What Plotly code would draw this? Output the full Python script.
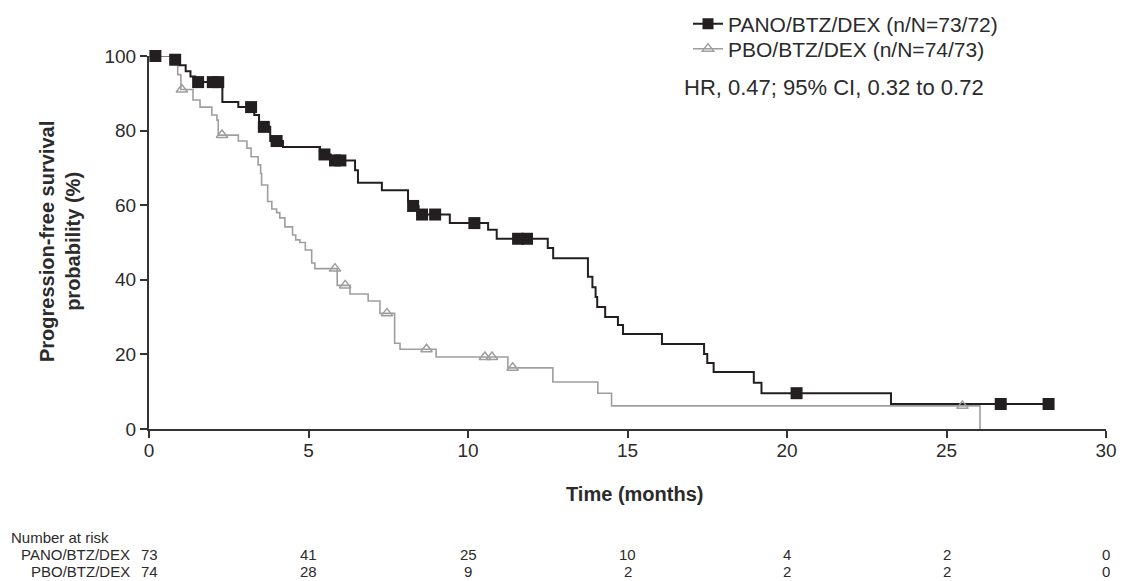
import plotly.graph_objects as go

# ---------------- data ----------------
pano_name = "PANO/BTZ/DEX (n/N=73/72)"
pbo_name = "PBO/BTZ/DEX (n/N=74/73)"
hr_text = "HR, 0.47; 95% CI, 0.32 to 0.72"

# Kaplan-Meier step points (time in months, survival %)
pano_time = [0, 0.75, 0.95, 1.15, 1.3, 1.45, 2.3, 2.8, 3.3, 3.45, 3.8, 4.2, 5.36, 5.7,
             6.46, 6.55, 7.3, 8.12, 8.2, 8.45, 9.43, 10.63, 10.9, 12.5, 12.67, 13.76,
             13.9, 14.0, 14.05, 14.3, 14.7, 14.86, 16.08, 17.4, 17.5, 17.7, 18.96, 19.2,
             23.26, 28.2]
pano_surv = [100, 99, 97.5, 95.9, 94.5, 93, 87.7, 86.3, 84.2, 81, 77.2, 75.6, 73.6, 72,
             69.4, 66, 64, 61, 59.8, 57.5, 55.2, 53.4, 51, 48.5, 45.8, 40.8,
             38, 35.4, 32.7, 30, 27.9, 25.5, 22.8, 20.1, 17.7, 15.3, 12.4, 9.6,
             6.7, 6.7]
pano_cens_time = [0.2, 0.82, 1.54, 2.0, 2.17, 3.2, 3.6, 4.0, 5.5, 5.83, 6.0, 8.28, 8.56,
                  8.97, 10.2, 11.57, 11.85, 20.3, 26.7, 28.2]
pano_cens_surv = [100, 99, 93, 93, 93, 86.3, 81, 77.2, 73.6, 72, 72, 59.8, 57.5,
                  57.5, 55.2, 51, 51, 9.6, 6.7, 6.7]

pbo_time = [0, 0.8, 0.9, 1.0, 1.38, 1.6, 1.97, 2.13, 2.17, 2.8, 3.07, 3.2, 3.42, 3.5,
            3.53, 3.72, 3.85, 4.0, 4.1, 4.26, 4.5, 4.6, 4.73, 4.9, 5.1, 5.2, 5.9, 6.3,
            6.87, 7.24, 7.7, 7.87, 9.0, 11.25, 12.66, 14.07, 14.5, 26.05, 26.05]
pbo_surv = [100, 98, 95, 91, 88.2, 86.3, 84.2, 82.8, 78.8, 77.2, 75.3, 73, 70.8, 68.5,
            65.4, 61, 59, 58, 56.6, 54.2, 52, 50.7, 50, 48, 44.5, 43, 38.5, 36.2,
            34.3, 31, 23, 21.4, 19.3, 16.4, 12.6, 9.6, 6.2, 6.2, 0]
pbo_cens_time = [1.03, 2.29, 5.83, 6.15, 7.46, 8.7, 10.53, 10.75, 11.4, 25.5]
pbo_cens_surv = [91, 78.8, 43, 38.5, 31, 21.4, 19.3, 19.3, 16.4, 6.2]

risk_times = [0, 5, 10, 15, 20, 25, 30]
risk_pano = [73, 41, 25, 10, 4, 2, 0]
risk_pbo = [74, 28, 9, 2, 2, 2, 0]
risk_labels = ["PANO/BTZ/DEX", "PBO/BTZ/DEX"]

x_ticks = [0, 5, 10, 15, 20, 25, 30]
y_ticks = [0, 20, 40, 60, 80, 100]

# ---------------- style ----------------
BLACK = "#231f20"
GRAY = "#9e9e9e"
TXT = "#2b2b2b"
FONT = "Liberation Sans, Arial, sans-serif"

W, H = 1126, 581
ML, MR, MT, MB = 149, 20, 56, 152
PH = H - MT - MB
PW = W - ML - MR


def py2paper(py):
    return (H - MB - py) / PH


def px2paper(px):
    return (px - ML) / PW


fig = go.Figure()

fig.add_trace(go.Scatter(x=pano_time, y=pano_surv, mode="lines", line=dict(color=BLACK, width=2, shape="hv"),
                         showlegend=False, hoverinfo="skip", cliponaxis=False))
fig.add_trace(go.Scatter(x=pbo_time, y=pbo_surv, mode="lines", line=dict(color=GRAY, width=1.6, shape="hv"),
                         showlegend=False, hoverinfo="skip", cliponaxis=False))
fig.add_trace(go.Scatter(x=pano_cens_time, y=pano_cens_surv, mode="markers",
                         marker=dict(symbol="square", size=12, color=BLACK, line=dict(width=0)),
                         showlegend=False, cliponaxis=False))
fig.add_trace(go.Scatter(x=pbo_cens_time, y=pbo_cens_surv, mode="markers",
                         marker=dict(symbol="triangle-up-open", size=10, color=GRAY, line=dict(width=1.5, color=GRAY)),
                         showlegend=False, cliponaxis=False))

# legend entries (one legend per row for exact placement)
fig.add_trace(go.Scatter(x=[None], y=[None], mode="lines+markers", name=pano_name, legend="legend",
                         line=dict(color=BLACK, width=2),
                         marker=dict(symbol="square", size=11, color=BLACK)))
fig.add_trace(go.Scatter(x=[None], y=[None], mode="lines+markers", name=pbo_name, legend="legend2",
                         line=dict(color=GRAY, width=1.5),
                         marker=dict(symbol="triangle-up-open", size=10, color=GRAY, line=dict(width=1.5, color=GRAY))))

annotations = []
annotations.append(dict(text=hr_text, xref="paper", yref="paper", x=px2paper(682),
                        y=py2paper(88), xanchor="left", yanchor="middle", showarrow=False,
                        font=dict(size=22, color=TXT, family=FONT)))
annotations.append(dict(text="<b>Progression-free survival<br>probability (%)</b>", xref="paper", yref="paper",
                        x=px2paper(60), y=py2paper(242), textangle=-90,
                        xanchor="center", yanchor="middle", showarrow=False,
                        font=dict(size=20, color=TXT, family=FONT)))
annotations.append(dict(text="<b>Time (months)</b>", xref="paper", yref="paper", x=px2paper(634), y=py2paper(494),
                        xanchor="center", yanchor="middle", showarrow=False,
                        font=dict(size=20, color=TXT, family=FONT)))
annotations.append(dict(text="Number at risk", xref="paper", yref="paper", x=px2paper(9),
                        y=py2paper(537), xanchor="left", yanchor="middle", showarrow=False,
                        font=dict(size=15, color=TXT, family=FONT)))
for lab, vals, py in [(risk_labels[0], risk_pano, 554), (risk_labels[1], risk_pbo, 571)]:
    annotations.append(dict(text=lab, xref="paper", yref="paper", x=px2paper(132),
                            y=py2paper(py), xanchor="right", yanchor="middle", showarrow=False,
                            font=dict(size=15, color=TXT, family=FONT)))
    for t, v in zip(risk_times, vals):
        annotations.append(dict(text=str(v), xref="x", yref="paper", x=t, y=py2paper(py),
                                xanchor="center", yanchor="middle", showarrow=False,
                                font=dict(size=15, color=TXT, family=FONT)))

leg_common = dict(xanchor="left", yanchor="middle", bgcolor="rgba(0,0,0,0)",
                  font=dict(size=21, color=TXT, family=FONT), itemwidth=30, borderwidth=0)

fig.update_layout(
    width=W, height=H,
    margin=dict(l=ML, r=MR, t=MT, b=MB, pad=0, autoexpand=False),
    paper_bgcolor="white", plot_bgcolor="white",
    font=dict(family=FONT, color=TXT, size=19),
    showlegend=True,
    legend=dict(x=px2paper(688), y=py2paper(24), **leg_common),
    legend2=dict(x=px2paper(688), y=py2paper(49), **leg_common),
    annotations=annotations,
    xaxis=dict(range=[0, 30], tickvals=x_ticks, ticks="outside", ticklen=7, tickwidth=1.5, tickcolor="#333",
               showline=True, linecolor="#333", linewidth=2, showgrid=False, zeroline=False,
               ticklabelstandoff=-4,
               tickfont=dict(size=19, color=TXT, family=FONT), fixedrange=True),
    yaxis=dict(range=[0, 100], tickvals=y_ticks, ticks="outside", ticklen=7, tickwidth=1.5, tickcolor="#333",
               showline=True, linecolor="#333", linewidth=2, showgrid=False, zeroline=False,
               tickfont=dict(size=19, color=TXT, family=FONT), fixedrange=True),
)

fig.write_html("out.html")
